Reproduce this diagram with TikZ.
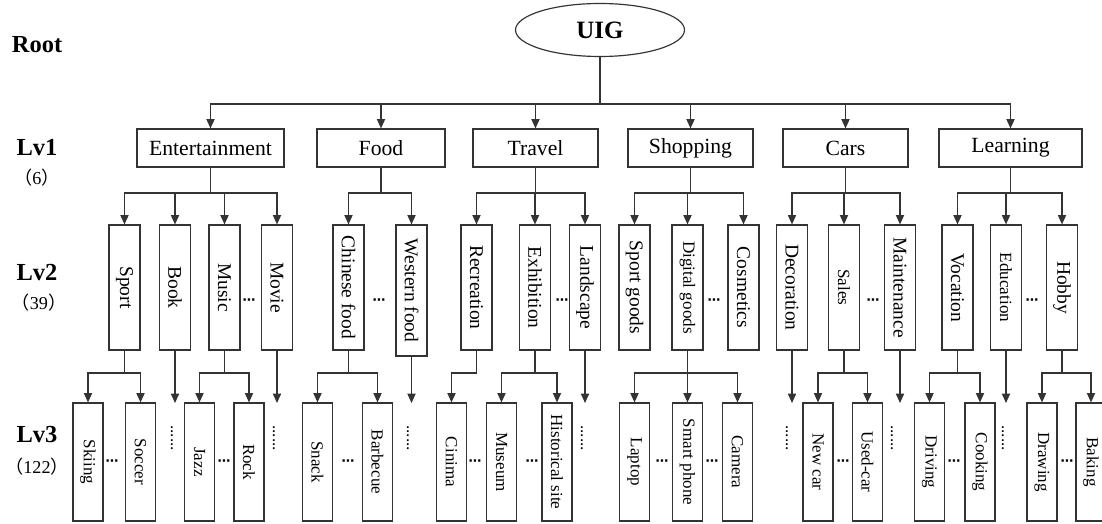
\documentclass[tikz,border=0pt]{standalone}
\usepackage{fontspec}
\setmainfont{Liberation Serif}
\newfontfamily\cjk{Noto Sans CJK SC}
\newfontfamily\symb{DejaVu Sans}
\usepackage{tikz}
\usetikzlibrary{arrows.meta,positioning,shapes.geometric}
\tikzset{
	box/.style={draw=black!80, align=center, inner sep=2pt, line width=1pt},
	lvbox/.style={box, minimum width=37.5mm, minimum height=11.4mm, font=\fontsize{18.5}{20}\selectfont},
	catbox/.style={box, rotate=-90, minimum width=37.5mm, minimum height=9.3mm, font=\fontsize{16.6}{18}\selectfont},
	arrow/.style={-{Triangle[length=8pt,width=7pt]}, black!80, line width=1pt},
	link/.style={black!80, line width=1pt},
	lvlabel/.style={font=\fontsize{20.9}{22}\selectfont\bfseries},
	countlabel/.style={font=\fontsize{15.5}{17}\selectfont},
	gapdots/.style={font=\symb\fontsize{11}{12}\selectfont\bfseries, inner sep=0pt}
}

\begin{document}
\begin{tikzpicture}[
		x=0.3mm, y=-0.3mm,
		leafbox/.style={box, rotate=-90, minimum width=35.4mm, minimum height=9mm, font=\fontsize{14.5}{16}\selectfont},
		moredots/.style={rotate=-90, inner sep=0pt, font=\fontsize{14.5}{16}\selectfont}
		]
		\useasboundingbox (0,0) rectangle (1102,524);
		
		\node[lvlabel] (root) at (37,45) {Root};
		\node[lvlabel] (lv1) at (37,148) {Lv1};
		\node[countlabel] (n1) at (37,178) {{\cjk（}6{\cjk）}};
		\node[lvlabel] (lv2) at (37,273) {Lv2};
		\node[countlabel] (n2) at (39,303) {{\cjk（}39{\cjk）}};
		\node[lvlabel] (lv3) at (37,435) {Lv3};
		\node[countlabel] (n3) at (37,467) {{\cjk（}122{\cjk）}};
		
		\node[draw=black!80, ellipse, line width=1pt, minimum width=50.7mm, minimum height=15.9mm,
		font=\fontsize{21.3}{23}\selectfont\bfseries] (uig) at (600,30) {UIG};
		
		\node[lvbox, minimum width=44.1mm] (ent) at (210.5,148) {Entertainment};
		\node[lvbox, minimum width=38.4mm] (food) at (381,148) {Food};
		\node[lvbox] (travel) at (535.5,148) {Travel};
		\node[lvbox] (shop) at (690.5,148) {Shopping};
		\node[lvbox] (cars) at (845.5,148) {Cars};
		\node[lvbox, minimum width=42.9mm] (learn) at (1010.5,148) {Learning};
		
		\foreach \n/\x/\t in {sport/124.5/Sport, book/175/Book, music/224.5/Music, movie/277/Movie,
			chinese/348.5/Chinese food, recre/476.5/Recreation, exhib/535/Exhibition, land/585/Landscape,
			sgoods/634.5/Sport goods, cosm/743.5/Cosmetics, decor/792/Decoration, maint/900/Maintenance,
			vocat/957.5/Vocation, hobby/1062/Hobby}
		\node[catbox] (\n) at (\x,287.5) {\t};
		\node[catbox, minimum width=39.3mm] (western) at (411.5,290.5) {Western food};
		\foreach \n/\x/\t in {digital/687.5/Digital goods, sales/844/Sales, edu/1006/Education}
		\node[catbox, font=\fontsize{14.6}{16}\selectfont] (\n) at (\x,287.5) {\t};
		
		\foreach \n/\x/\t in {skiing/88/Skiing, soccer/140.5/Soccer, jazz/199.5/Jazz, rock/249/Rock,
			snack/317.5/Snack, barbecue/377.5/Barbecue, cinima/451.5/Cinima, museum/501.5/Museum,
			histsite/557/Historical site, laptop/634.5/Laptop, smart/687.5/Smart phone, camera/737.5/Camera,
			newcar/818/New car, usedcar/867.5/Used-car, driving/929.5/Driving, cooking/980/Cooking,
			drawing/1042/Drawing, baking/1091/Baking}
		\node[leafbox] (\n) at (\x,462) {\t};
		
		\foreach \x [count=\i] in {249,379,562,714,873,1032}
		\node[gapdots] (gaptwo\i) at (\x,302) {⋯};
		\foreach \x [count=\i] in {112,224,348,475,532,662,712,843,954,1067}
		\node[gapdots] (gapthree\i) at (\x,463) {⋯};
		\foreach \x [count=\i] in {172,274,408,582,787,892,1003}
		\node[moredots] (more\i) at (\x,438) {......};
		
		\coordinate (bus1) at (0,104);
		\coordinate (bus2) at (0,193);
		\coordinate (bus3) at (0,373);
		\coordinate (lv3top) at (0,403);
		
		\draw[link, line width=1.8pt] (uig.south) -- (uig.south |- bus1);
		\foreach \c in {ent,food,travel,shop,cars,learn}
		\draw[arrow] (uig.south |- bus1) -| (\c.north);
		
		\foreach \p/\c in {ent/sport, ent/book, ent/music, ent/movie, food/chinese, food/western,
			travel/recre, travel/exhib, travel/land, shop/sgoods, shop/digital, shop/cosm,
			cars/decor, cars/sales, cars/maint, learn/vocat, learn/edu, learn/hobby}
		\draw[arrow] (\p.south) -- (\p.south |- bus2) -| (\c.west);
		
		\foreach \p/\c in {sport/skiing, sport/soccer, music/jazz, music/rock, chinese/snack, chinese/barbecue,
			recre/cinima, exhib/museum, exhib/histsite, digital/laptop, digital/smart, digital/camera,
			sales/newcar, sales/usedcar, vocat/driving, vocat/cooking, hobby/drawing, hobby/baking}
		\draw[arrow] (\p.east) -- (\p.east |- bus3) -| (\c.west);
		
		\foreach \p in {book, movie, western, land, decor, maint, edu}
		\draw[arrow] (\p.east) -- (\p.east |- lv3top);
	\end{tikzpicture}
\end{document}
